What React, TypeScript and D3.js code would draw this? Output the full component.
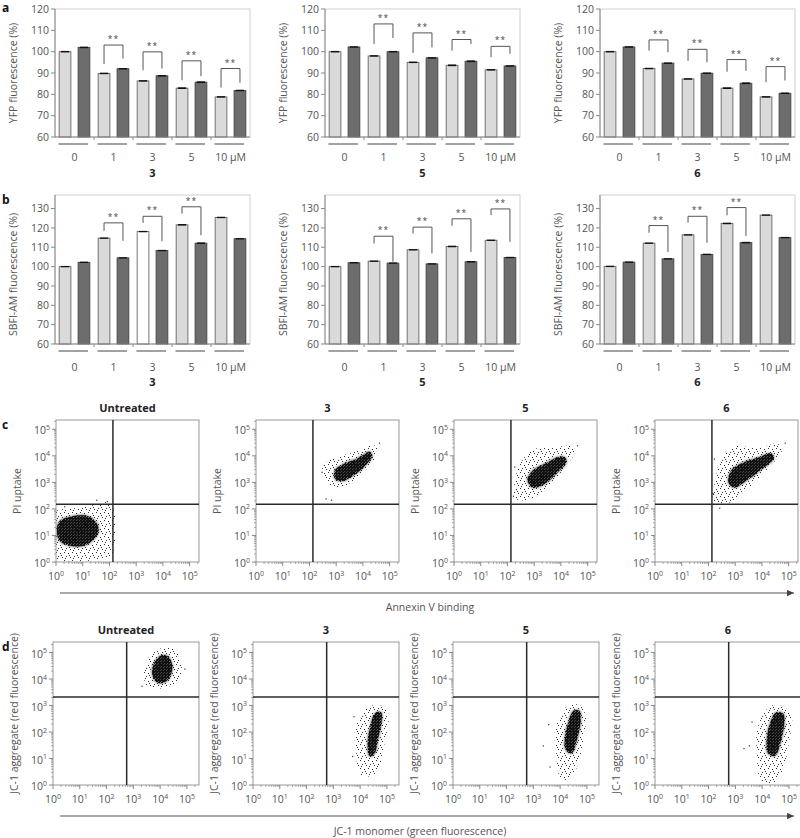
import React from "react";
import * as d3 from "d3";

const FONT = "'Open Sans', 'Noto Sans', Arial, sans-serif";
const INK = "#555";

// ---- panels a / b: bar values (% of control), light / dark bar per dose ----
const doses = ["0", "1", "3", "5", "10 µM"];
const compounds = ["3", "5", "6"];

const yfpLight3 = [100, 89.8, 86.3, 82.9, 78.8];
const yfpDark3 = [102, 92.0, 88.7, 85.7, 81.8];
const yfpLight5 = [100, 98.0, 95.0, 93.6, 91.5];
const yfpDark5 = [102.2, 100, 97.1, 95.5, 93.3];
const yfpLight6 = [100, 92.1, 87.2, 82.9, 78.8];
const yfpDark6 = [102.2, 94.6, 89.9, 85.2, 80.5];

const sbfiLight3 = [100, 114.7, 118.1, 121.6, 125.4];
const sbfiDark3 = [102.2, 104.5, 108.3, 112.1, 114.4];
const sbfiLight5 = [100, 102.8, 108.7, 110.4, 113.6];
const sbfiDark5 = [102, 101.8, 101.4, 102.5, 104.7];
const sbfiLight6 = [100.1, 112.1, 116.4, 122.3, 126.6];
const sbfiDark6 = [102.3, 104, 106.3, 112.4, 115];

const sem = [0.35, 0.35, 0.35, 0.4, 0.35];

// significance brackets: [dose index, bracket top, left leg end, right leg end]
const yfpSig3 = [[1, 103.1, 94.2, 96.8], [2, 99.9, 91.3, 92.1], [3, 95.7, 86.6, 88.5], [4, 92.1, 83.2, 85.4]];
const yfpSig5 = [[1, 113, 103.6, 106.4], [2, 108.8, 99.4, 102], [3, 105.7, 100.5, 103.6], [4, 102.5, 97.4, 99]];
const yfpSig6 = [[1, 105.5, 100.5, 99.7], [2, 101.1, 95.7, 95], [3, 96.3, 90.6, 91], [4, 93, 85.7, 86.5]];
const sbfiSig3 = [[1, 122.6, 118.5, 113.3], [2, 126, 122.6, 113.1], [3, 130.9, 127.4, 116.2]];
const sbfiSig5 = [[1, 115.7, 111.9, 102.5], [2, 120.4, 117.1, 106.8], [3, 124.7, 121.1, 107.6], [4, 129.8, 126.6, 112.8]];
const sbfiSig6 = [[1, 121.2, 117.5, 107.5], [2, 126, 122.7, 112.3], [3, 130.5, 126.5, 115.8]];

const yfpTicks = [60, 70, 80, 90, 100, 110, 120];
const sbfiTicks = [60, 70, 80, 90, 100, 110, 120, 130];

// ---- panels c / d: flow cytometry clouds, outlines read in log10 units [x, y] ----
const flowTitles = ["Untreated", "3", "5", "6"];
const decades = [0, 1, 2, 3, 4, 5];

const piHalo = [
  [[0, 1.9], [0.5, 2.0], [1.2, 2.1], [1.8, 2.25], [2.1, 2.2], [2.1, 0.3], [1.6, 0.1], [0.8, 0.03], [0, 0.15]],
  [[2.5, 3.65], [3.0, 3.95], [3.6, 4.12], [4.35, 4.4], [4.55, 4.3], [4.4, 3.8], [3.8, 3.2], [3.3, 2.85], [2.8, 2.85], [2.55, 3.2]],
  [[2.3, 2.4], [2.3, 3.2], [2.6, 3.9], [3.0, 4.25], [3.6, 4.3], [4.45, 4.35], [4.5, 4.1], [4.1, 3.5], [3.5, 2.8], [2.8, 2.35]],
  [[2.2, 2.3], [2.3, 3.3], [2.5, 4.0], [3.0, 4.35], [3.8, 4.3], [4.6, 4.45], [4.75, 4.2], [4.2, 3.5], [3.4, 2.7], [2.7, 2.2]],
];
const piCore = [
  [[0.1, 1.5], [0.5, 1.7], [1.1, 1.75], [1.45, 1.55], [1.6, 1.2], [1.4, 0.85], [1.0, 0.6], [0.4, 0.65], [0.1, 0.85]],
  [[2.95, 3.45], [3.3, 3.7], [3.8, 3.9], [4.25, 4.15], [4.35, 4.0], [4.15, 3.7], [3.7, 3.3], [3.2, 3.05], [2.95, 3.15]],
  [[2.75, 3.1], [2.95, 3.45], [3.4, 3.7], [3.9, 3.95], [4.15, 3.95], [4.2, 3.75], [3.9, 3.4], [3.4, 2.95], [2.95, 2.8]],
  [[2.75, 3.0], [2.85, 3.45], [3.3, 3.75], [3.9, 3.95], [4.35, 4.1], [4.45, 3.92], [4.0, 3.5], [3.4, 3.05], [2.95, 2.8]],
];
const piStrays = [
  [[1.5, 2.35], [1.9, 2.3], [0.3, 2.1]],
  [[2.6, 2.4], [2.8, 2.35], [2.45, 3.4], [4.6, 4.5]],
  [[2.2, 2.5], [2.25, 3.6], [4.6, 4.4]],
  [[2.15, 2.6], [2.2, 3.9], [4.85, 4.5], [2.4, 2.05]],
];

const jcHalo = [
  [[3.4, 4.0], [3.5, 4.7], [3.9, 5.1], [4.3, 5.2], [4.6, 5.05], [4.8, 4.6], [4.7, 4.0], [4.3, 3.7], [3.8, 3.65], [3.5, 3.75]],
  [[4.0, 0.4], [3.85, 1.2], [3.8, 2.0], [4.0, 2.6], [4.3, 2.95], [4.75, 3.0], [5.05, 2.7], [5.0, 2.0], [4.85, 1.3], [4.6, 0.4]],
  [[4.0, 0.3], [3.85, 1.2], [3.8, 2.0], [4.0, 2.6], [4.3, 3.0], [4.75, 3.0], [4.95, 2.6], [4.85, 1.6], [4.6, 0.6], [4.3, 0.2]],
  [[3.95, 0.2], [3.8, 1.2], [3.8, 2.0], [4.0, 2.6], [4.35, 3.0], [4.8, 2.95], [5.1, 2.6], [5.0, 1.6], [4.75, 0.5], [4.4, 0.05]],
];
const jcCore = [
  [[3.7, 4.2], [3.8, 4.65], [4.05, 4.9], [4.3, 4.85], [4.45, 4.5], [4.35, 4.05], [4.1, 3.85], [3.85, 3.9]],
  [[4.35, 1.1], [4.28, 1.6], [4.38, 2.2], [4.55, 2.7], [4.78, 2.75], [4.8, 2.4], [4.68, 1.8], [4.52, 1.15]],
  [[4.22, 1.3], [4.18, 1.8], [4.32, 2.4], [4.5, 2.8], [4.72, 2.8], [4.76, 2.4], [4.62, 1.7], [4.43, 1.2]],
  [[4.22, 1.2], [4.18, 1.8], [4.32, 2.4], [4.5, 2.72], [4.78, 2.7], [4.82, 2.3], [4.68, 1.6], [4.48, 1.1]],
];
const jcStrays = [
  [[3.3, 3.75], [4.9, 4.4]],
  [[3.7, 1.1], [3.75, 2.6]],
  [[3.55, 2.3], [3.35, 1.5], [3.6, 0.7]],
  [[3.5, 1.5], [3.3, 1.4], [3.6, 2.4]],
];

function BarChart({ left, right, top, bottom, domain, ticks, light, dark, sig, yLabel, compound, hollow = -1, doseDy, compDy }) {
  const y = d3.scaleLinear().domain(domain).range([bottom, top]);
  const x = d3.scaleBand().domain(d3.range(doses.length)).range([left, right]);
  const sub = d3.scaleBand().domain(["light", "dark"]).range([0, x.bandwidth()]).paddingInner(0.38).paddingOuter(0.22);
  const bw = sub.bandwidth();
  const bars = doses.flatMap((_, i) => [
    { i, v: light[i], k: "light", fill: i === hollow ? "#fff" : "#dadada", stroke: "#666" },
    { i, v: dark[i], k: "dark", fill: "#6d6d6d", stroke: "#444" },
  ]);
  return (
    <g fontFamily={FONT}>
      <rect x={left} y={top} width={right - left} height={bottom - top} fill="none" stroke="#cfcfcf" />
      {ticks.map((t) => (
        <g key={t}>
          <line x1={left - 4} x2={left} y1={y(t)} y2={y(t)} stroke="#888" />
          <text x={left - 6} y={y(t)} dy="0.35em" textAnchor="end" fontSize={10.5} fill={INK}>{t}</text>
        </g>
      ))}
      {bars.map((b, j) => {
        const bx = x(b.i) + sub(b.k);
        return (
          <g key={j}>
            <rect x={bx} y={y(b.v)} width={bw} height={bottom - y(b.v)} fill={b.fill} stroke={b.stroke} strokeWidth={0.9} />
            <rect x={bx + bw * 0.15} y={y(b.v + sem[b.i])} width={bw * 0.7} height={y(b.v - sem[b.i]) - y(b.v + sem[b.i])} fill="#111" />
          </g>
        );
      })}
      <line x1={left} x2={left} y1={top} y2={bottom} stroke="#888" />
      <line x1={left} x2={right} y1={bottom} y2={bottom} stroke="#888" />
      {d3.range(1, doses.length).map((i) => (
        <line key={i} x1={x(i)} x2={x(i)} y1={bottom} y2={bottom + 3} stroke="#888" />
      ))}
      {sig.map(([i, t, l, r]) => {
        const xl = x(i) + sub("light") + bw / 2;
        const xr = x(i) + sub("dark") + bw / 2;
        return (
          <g key={i}>
            <path d={`M${xl},${y(l)}V${y(t)}H${xr}V${y(r)}`} fill="none" stroke="#555" strokeWidth={1} />
            <text x={(xl + xr) / 2} y={y(t) - 3} textAnchor="middle" fontSize={8.5} fill="#444" letterSpacing={1}>**</text>
          </g>
        );
      })}
      {doses.map((d, i) => (
        <g key={d}>
          <line x1={x(i) + 3.5} x2={x(i) + x.bandwidth() - 6} y1={bottom + 7} y2={bottom + 7} stroke="#7a7a7a" strokeWidth={1.4} />
          <text x={x(i) + x.bandwidth() / 2} y={bottom + doseDy} textAnchor="middle" fontSize={10.5} fill={INK}>{d}</text>
        </g>
      ))}
      <text x={(left + right) / 2} y={bottom + compDy} textAnchor="middle" fontSize={11} fontWeight="bold" fill="#222">{compound}</text>
      <text transform={`translate(${left - 38},${(top + bottom) / 2 + (top < 100 ? 0 : 5)}) rotate(-90)`} textAnchor="middle" fontSize={10.5} fill={INK}>{yLabel}</text>
    </g>
  );
}

function Pow({ e }) {
  return (
    <>
      10<tspan dy={-4.5} fontSize={7}>{e}</tspan>
    </>
  );
}

function FlowPlot({ uid, left, top, width, height, xMax, yMax, gateX, gateY, title, yLabel, halo, core, strays }) {
  const x = d3.scaleLog().domain([1, 10 ** xMax]).range([left, left + width]);
  const y = d3.scaleLog().domain([1, 10 ** yMax]).range([top + height, top]);
  const pt = (p) => [x(10 ** p[0]), y(10 ** p[1])];
  const blob = d3.line().curve(d3.curveCatmullRomClosed.alpha(0.5));
  const minorX = decades.flatMap((e) => d3.range(2, 10).map((m) => m * 10 ** e)).filter((v) => v < 10 ** xMax);
  const minorY = decades.flatMap((e) => d3.range(2, 10).map((m) => m * 10 ** e)).filter((v) => v < 10 ** yMax);
  const bottom = top + height;
  return (
    <g fontFamily={FONT}>
      <clipPath id={`clip-${uid}`}>
        <rect x={left} y={top} width={width} height={height} />
      </clipPath>
      <g clipPath={`url(#clip-${uid})`}>
        <path d={blob(halo.map(pt))} fill="url(#speck)" filter="url(#fade)" />
        <path d={blob(core.map(pt))} fill="url(#dense)" filter="url(#soft)" />
        <path d={blob(core.map(pt))} fill="url(#dense)" />
        {strays.map((p, i) => (
          <rect key={i} x={pt(p)[0]} y={pt(p)[1]} width={1.2} height={1.2} fill="#333" />
        ))}
      </g>
      <rect x={left} y={top} width={width} height={height} fill="none" stroke="#999" />
      {minorX.map((v) => (
        <line key={`mx${v}`} x1={x(v)} x2={x(v)} y1={bottom} y2={bottom + 2} stroke="#888" strokeWidth={0.7} />
      ))}
      {minorY.map((v) => (
        <line key={`my${v}`} x1={left - 2} x2={left} y1={y(v)} y2={y(v)} stroke="#888" strokeWidth={0.7} />
      ))}
      {decades.map((e) => (
        <g key={e}>
          <line x1={x(10 ** e)} x2={x(10 ** e)} y1={bottom} y2={bottom + 4} stroke="#888" />
          <line x1={left - 4} x2={left} y1={y(10 ** e)} y2={y(10 ** e)} stroke="#888" />
          <text x={x(10 ** e)} y={bottom + 18} textAnchor="middle" fontSize={10.5} fill={INK}><Pow e={e} /></text>
          <text x={left - 6} y={y(10 ** e) + 5} textAnchor="end" fontSize={10.5} fill={INK}><Pow e={e} /></text>
        </g>
      ))}
      <line x1={x(10 ** gateX)} x2={x(10 ** gateX)} y1={top} y2={bottom} stroke="#2a2a2a" strokeWidth={1.5} />
      <line x1={left} x2={left + width} y1={y(10 ** gateY)} y2={y(10 ** gateY)} stroke="#2a2a2a" strokeWidth={1.5} />
      <text x={left + width / 2} y={top - 8} textAnchor="middle" fontSize={11} fontWeight="bold" fill="#222">{title}</text>
      <text transform={`translate(${left - 35},${top + height / 2}) rotate(-90)`} textAnchor="middle" fontSize={10.5} fill={INK}>{yLabel}</text>
    </g>
  );
}

const barLefts = [55, 325, 600];
const barWidth = 195;
const yfpSets = [[yfpLight3, yfpDark3, yfpSig3], [yfpLight5, yfpDark5, yfpSig5], [yfpLight6, yfpDark6, yfpSig6]];
const sbfiSets = [[sbfiLight3, sbfiDark3, sbfiSig3], [sbfiLight5, sbfiDark5, sbfiSig5], [sbfiLight6, sbfiDark6, sbfiSig6]];
const cLefts = [56, 256, 454, 655];
const dLefts = [53, 253, 453, 655];

// texture cells for the cytometry dot clouds
const sparseDots = [[0, 0], [4, 1], [2, 4], [6, 5], [1, 6], [5, 3]];
const denseDots = [[0, 0], [1, 0], [2, 1], [0, 1], [1, 2], [2, 2], [0, 2]];

export default function App() {
  return (
    <svg width={800} height={838} style={{ position: "absolute", left: 0, top: 0, background: "#fff" }}>
      <defs>
        <pattern id="speck" patternUnits="userSpaceOnUse" width={8} height={8}>
          {sparseDots.map(([a, b], i) => (
            <rect key={i} x={a} y={b} width={1} height={1} fill="#333" />
          ))}
        </pattern>
        <pattern id="dense" patternUnits="userSpaceOnUse" width={3} height={3}>
          {denseDots.map(([a, b], i) => (
            <rect key={i} x={a} y={b} width={1} height={1} fill="#111" />
          ))}
        </pattern>
        <filter id="soft" x="-20%" y="-20%" width="140%" height="140%">
          <feGaussianBlur stdDeviation={1.6} />
        </filter>
        <filter id="fade" x="-10%" y="-10%" width="120%" height="120%">
          <feGaussianBlur stdDeviation={0.4} />
        </filter>
        <marker id="arr" viewBox="0 0 10 10" refX={10} refY={5} markerUnits="userSpaceOnUse" markerWidth={9} markerHeight={7} orient="auto">
          <path d="M0,0.5L10,5L0,9.5z" fill="#444" />
        </marker>
      </defs>
      <rect width={800} height={838} fill="#fff" />

      <g fontFamily={FONT} fontWeight="bold" fontSize={12} fill="#111">
        <text x={2} y={12}>a</text>
        <text x={2} y={204}>b</text>
        <text x={2} y={429}>c</text>
        <text x={2} y={651}>d</text>
      </g>

      {yfpSets.map(([l, d, s], k) => (
        <BarChart key={`a${k}`} left={barLefts[k]} right={barLefts[k] + barWidth} top={9} bottom={137}
          domain={[60, 120]} ticks={yfpTicks} light={l} dark={d} sig={s}
          yLabel="YFP fluorescence (%)" compound={compounds[k]} doseDy={24} compDy={40} />
      ))}
      {sbfiSets.map(([l, d, s], k) => (
        <BarChart key={`b${k}`} left={barLefts[k]} right={barLefts[k] + barWidth} top={195} bottom={344}
          domain={[60, 137]} ticks={sbfiTicks} light={l} dark={d} sig={s} hollow={k === 0 ? 2 : -1}
          yLabel="SBFI-AM fluorescence (%)" compound={compounds[k]} doseDy={27} compDy={42} />
      ))}

      {flowTitles.map((t, k) => (
        <FlowPlot key={`c${k}`} uid={`c${k}`} left={cLefts[k]} top={420} width={143} height={142}
          xMax={5.35} yMax={5.35} gateX={2.13} gateY={2.18} title={t} yLabel="PI uptake"
          halo={piHalo[k]} core={piCore[k]} strays={piStrays[k]} />
      ))}
      <line x1={60} x2={794} y1={593} y2={593} stroke="#555" strokeWidth={1.2} markerEnd="url(#arr)" />
      <text x={430} y={611} textAnchor="middle" fontFamily={FONT} fontSize={10.5} fill={INK}>Annexin V binding</text>

      {flowTitles.map((t, k) => (
        <FlowPlot key={`d${k}`} uid={`d${k}`} left={dLefts[k]} top={642} width={146} height={143}
          xMax={5.45} yMax={5.4} gateX={2.75} gateY={3.32} title={t} yLabel="JC-1 aggregate (red fluorescence)"
          halo={jcHalo[k]} core={jcCore[k]} strays={jcStrays[k]} />
      ))}
      <line x1={60} x2={794} y1={816} y2={816} stroke="#555" strokeWidth={1.2} markerEnd="url(#arr)" />
      <text x={420} y={835} textAnchor="middle" fontFamily={FONT} fontSize={10.5} fill={INK}>JC-1 monomer (green fluorescence)</text>
    </svg>
  );
}
